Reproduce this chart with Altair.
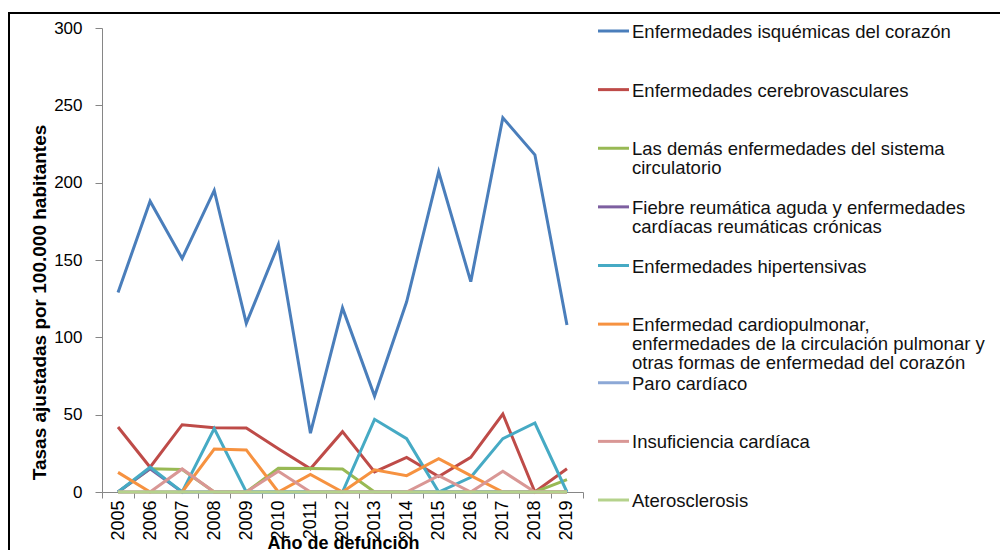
import altair as alt
import pandas as pd

years = [str(y) for y in range(2005, 2020)]

series = [
    "Enfermedades isquémicas del corazón",
    "Enfermedades cerebrovasculares",
    "Las demás enfermedades del sistema circulatorio",
    "Fiebre reumática aguda y enfermedades cardíacas reumáticas crónicas",
    "Enfermedades hipertensivas",
    "Enfermedad cardiopulmonar, enfermedades de la circulación pulmonar y otras formas de enfermedad del corazón",
    "Paro cardíaco",
    "Insuficiencia cardíaca",
    "Aterosclerosis",
]

legend_labels = [
    "Enfermedades isquémicas del corazón",
    "Enfermedades cerebrovasculares",
    "Las demás enfermedades del sistema\ncirculatorio",
    "Fiebre reumática aguda y enfermedades\ncardíacas reumáticas crónicas",
    "Enfermedades hipertensivas",
    "Enfermedad cardiopulmonar,\nenfermedades de la circulación pulmonar y\notras formas de enfermedad del corazón",
    "Paro cardíaco",
    "Insuficiencia cardíaca",
    "Aterosclerosis",
]

colors = ["#4A7EBB", "#BE4B48", "#98B954", "#7D5FA0", "#46AAC4",
          "#F69240", "#8CA8D6", "#D99795", "#B5D28C"]

isquemicas = [129, 188, 151, 195, 109, 160, 38, 119, 62, 123, 207, 136, 242, 218, 108]
cerebrovasculares = [42, 16, 43.5, 41.5, 41.4, 28, 15, 39, 13, 22.4, 10, 22.4, 50.4, 0, 15]
demas = [0, 15, 14.5, 0, 0, 15.3, 15.2, 14.9, 0, 0, 0, 0, 0, 0, 8]
fiebre = [0, 15, 0, 0, 0, 0, 0, 0, 0, 0, 0, 0, 0, 0, 0]
hipertensivas = [0, 16, 0, 41, 0, 0, 0, 0, 47, 34.5, 0, 9.5, 34.5, 44.6, 0]
cardiopulmonar = [12.7, 0, 0, 27.8, 27.2, 0, 11.4, 0, 14.4, 10.6, 21.5, 10.6, 0, 0, 0]
paro = [0, 0, 0, 0, 0, 0, 0, 0, 0, 0, 0, 0, 0, 0, 0]
insuficiencia = [0, 0, 14.9, 0, 0, 13.4, 0, 0, 0, 0, 10.6, 0, 13.4, 0, 0]
aterosclerosis = [0, 0, 0, 0, 0, 0, 0, 0, 0, 0, 0, 0, 0, 0, 0]

values = [isquemicas, cerebrovasculares, demas, fiebre, hipertensivas,
          cardiopulmonar, paro, insuficiencia, aterosclerosis]

rows = []
for i, (s, vals) in enumerate(zip(series, values)):
    for y, v in zip(years, vals):
        rows.append({"serie": s, "orden": i, "anio": y, "tasa": v})
df = pd.DataFrame(rows)

leg = pd.DataFrame({"serie": series, "label": legend_labels})

FONT = "Liberation Sans"
H = 545
W = 992
color_scale = alt.Scale(domain=series, range=colors)

# outer frame of the chart (decoration)
frame = alt.Chart(pd.DataFrame({"f": [0]})).mark_rect(
    filled=False, stroke="#000", strokeWidth=2
).encode(
    x=alt.value(1), x2=alt.value(1020), y=alt.value(0), y2=alt.value(600)
)

lines = alt.Chart(df).mark_line(strokeWidth=3).encode(
    x=alt.X("anio:O",
            scale=alt.Scale(type="band", domain=years, range=[94, 575],
                            paddingInner=0, paddingOuter=0),
            axis=alt.Axis(title="Año de defunción", labelAngle=270,
                          tickBand="extent", offset=-(H - 479),
                          labelFontSize=18, labelFont=FONT, labelColor="#000",
                          labelPadding=2, tickSize=6, tickColor="#868686",
                          domainColor="#868686", titleFont=FONT,
                          titleFontSize=18, titleFontWeight="bold",
                          titleColor="#000", titleX=335, titleY=42,
                          titleBaseline="top", titleAlign="center")),
    y=alt.Y("tasa:Q",
            scale=alt.Scale(domain=[0, 300], range=[479, 15], nice=False),
            axis=alt.Axis(title="Tasas ajustadas por 100.000 habitantes",
                          values=[0, 50, 100, 150, 200, 250, 300],
                          offset=-94, grid=False, labelFontSize=17,
                          labelFont=FONT, labelColor="#000", labelPadding=13,
                          tickSize=7, tickColor="#868686",
                          domainColor="#868686",
                          titleFont=FONT,
                          titleFontSize=19, titleFontWeight="bold",
                          titleColor="#000", titleX=-63, titleY=289,
                          titleAngle=270, titleAlign="center",
                          titleBaseline="middle")),
    color=alt.Color("serie:N", scale=color_scale, legend=None),
    detail="orden:O",
)

leg_y = alt.Scale(type="point", domain=series, range=[18, 487], padding=0)

leg_rule = alt.Chart(leg).mark_rule(strokeWidth=3).encode(
    x=alt.value(590), x2=alt.value(621),
    y=alt.Y("serie:N", scale=leg_y, axis=None),
    color=alt.Color("serie:N", scale=color_scale, legend=None),
)

leg_text = alt.Chart(leg).mark_text(
    align="left", baseline="top", lineBreak="\n", lineHeight=19,
    font=FONT, fontSize=18.5, dy=-8, color="#111"
).encode(
    x=alt.value(624),
    y=alt.Y("serie:N", scale=leg_y, axis=None),
    text="label:N",
)

chart = alt.layer(frame, lines, leg_rule, leg_text).resolve_scale(
    y="independent"
).properties(
    width=W, height=H,
    padding={"left": 0, "top": 5, "right": 0, "bottom": 0},
    autosize=alt.AutoSizeParams(type="none"),
    background="white",
).configure_view(
    stroke=None
)

chart.save("out.html", embed_options={"renderer": "svg", "actions": False})
